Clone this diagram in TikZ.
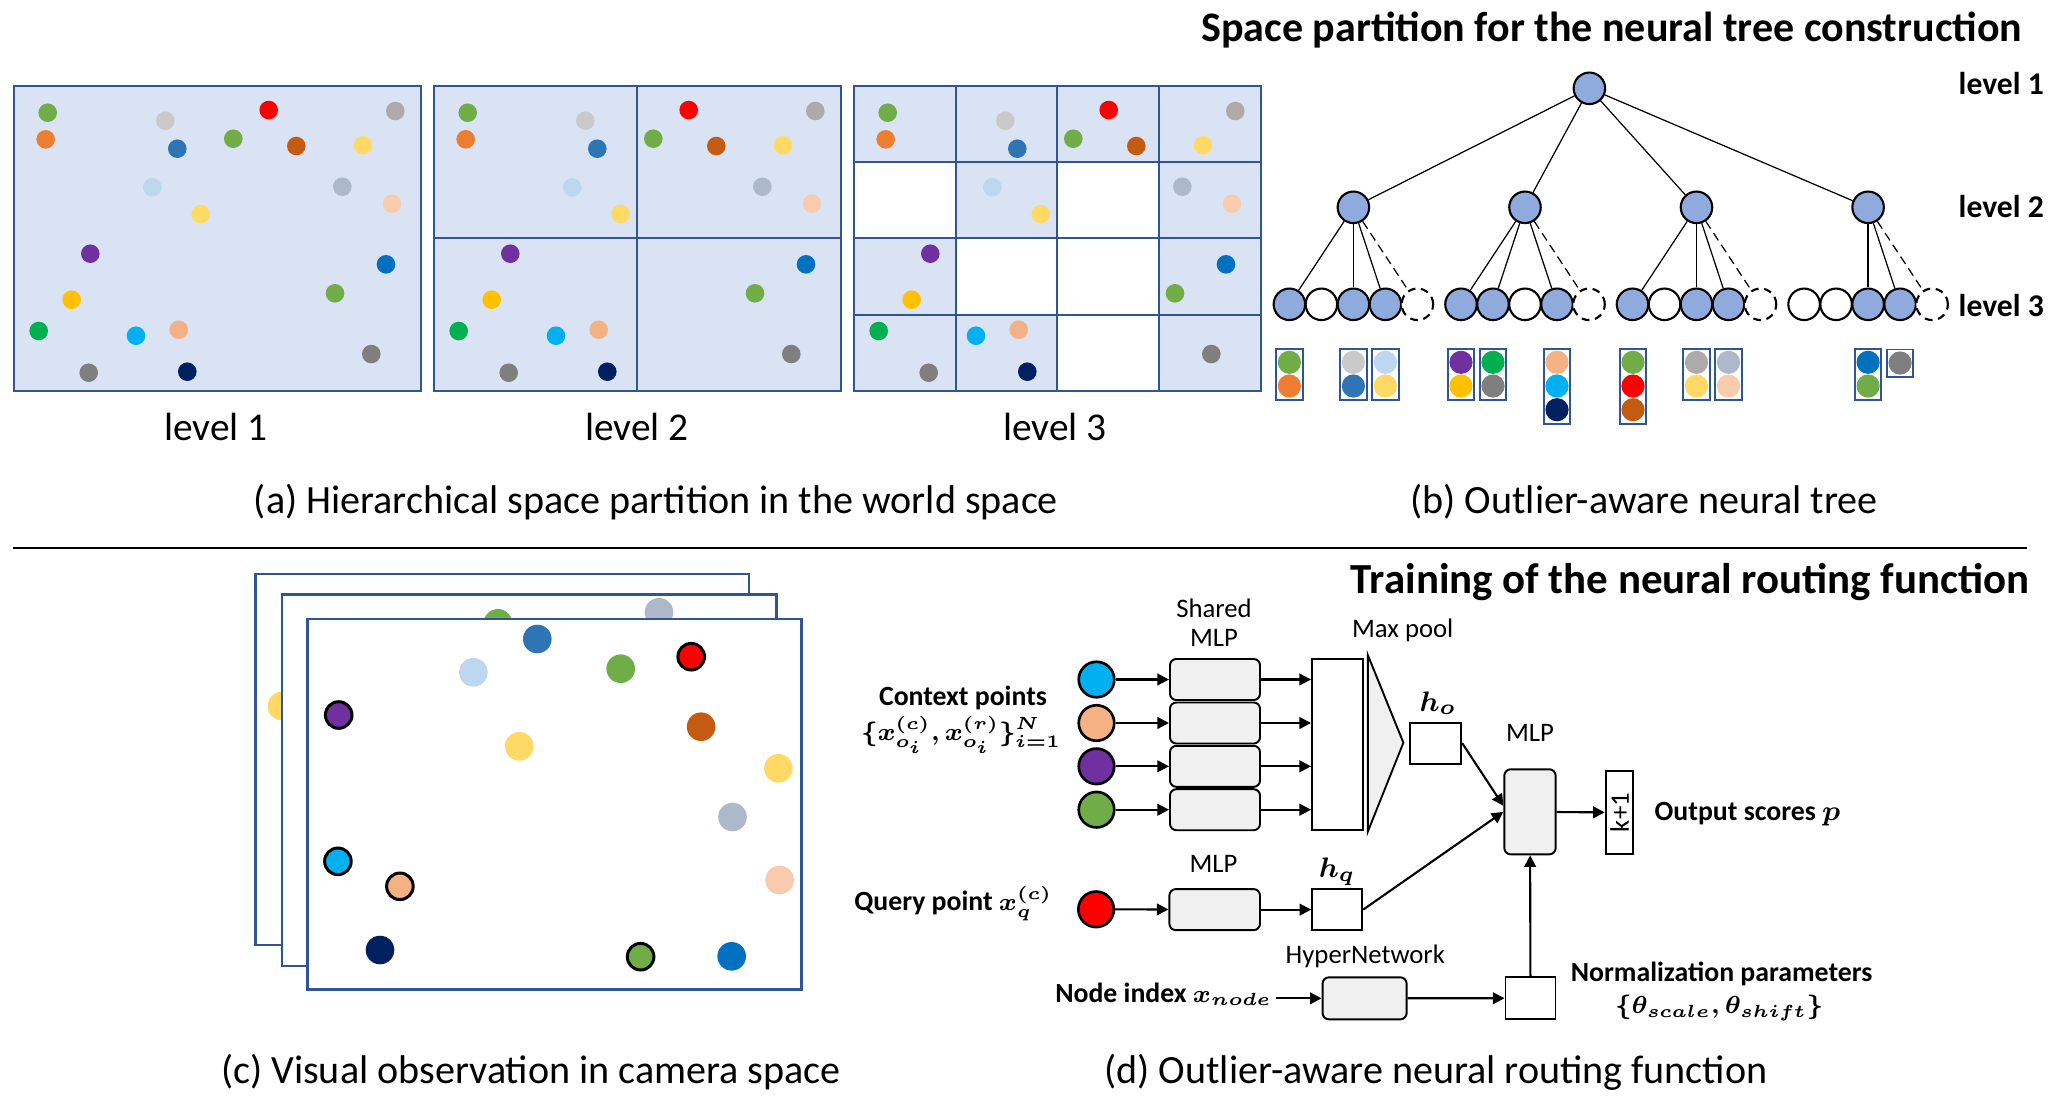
\documentclass[tikz,border=0pt]{standalone}
\usepackage{fontspec}
\setmainfont{Carlito}
\usepackage{amsmath,bm}
\usetikzlibrary{arrows.meta,calc}

\definecolor{pgreen}{HTML}{70AD47}
\definecolor{porange}{HTML}{ED7D31}
\definecolor{plgray}{HTML}{C9C9C9}
\definecolor{pblue}{HTML}{2E75B6}
\definecolor{pred}{HTML}{FF0000}
\definecolor{pbrown}{HTML}{C55A11}
\definecolor{pyellow}{HTML}{FFD966}
\definecolor{pgray}{HTML}{AEAAAA}
\definecolor{plblue}{HTML}{BDD7EE}
\definecolor{pbgray}{HTML}{ADB9CA}
\definecolor{ppeach}{HTML}{F8CBAD}
\definecolor{ppurple}{HTML}{7030A0}
\definecolor{pdblue}{HTML}{0070C0}
\definecolor{pgold}{HTML}{FFC000}
\definecolor{pdgreen}{HTML}{00B050}
\definecolor{pcyan}{HTML}{00B0F0}
\definecolor{ptan}{HTML}{F4B183}
\definecolor{pdgray}{HTML}{7F7F7F}
\definecolor{pnavy}{HTML}{002060}
\definecolor{frameblue}{HTML}{2F5597}
\definecolor{cellblue}{HTML}{DAE3F3}
\definecolor{treeblue}{HTML}{8FAADC}
\definecolor{mlpgray}{HTML}{F0F0F0}

\newcommand\figcapfont{\fontsize{11.4}{13.7}\selectfont}
\newcommand\figlvlfont{\fontsize{11.2}{13.4}\selectfont}
\newcommand\figheadfont{\fontsize{11.95}{14}\selectfont\bfseries}
\newcommand\figheaddfont{\fontsize{12.2}{14}\selectfont\bfseries}
\newcommand\figtreefont{\fontsize{9}{11}\selectfont\bfseries}
\newcommand\fignetfont{\fontsize{7.6}{8.1}\selectfont}
\newcommand\figboldfont{\fontsize{7.9}{9.5}\selectfont\bfseries}
\newcommand\figmathfont{\fontsize{8}{9.5}\selectfont}
\newcommand\figsmallmath{\fontsize{6.6}{8}\selectfont}

\def\worldpts{47.7/112.7/pgreen, 45.7/139.3/porange, 165.3/120.7/plgray, 177.3/148.7/pblue,
  233.3/138.7/pgreen, 268.7/110/pred, 296.3/146/pbrown, 363/145.3/pyellow, 395.3/111/pgray,
  152.3/187.3/plblue, 200.7/214/pyellow, 342.3/186.7/pbgray, 392/203.7/ppeach,
  90.3/253.7/ppurple, 386/264.3/pdblue, 335/293.3/pgreen, 71.7/299.7/pgold,
  38.7/331/pdgreen, 136/335.7/pcyan, 178.7/329.7/ptan, 371.3/354/pdgray,
  88.7/372.7/pdgray, 187.3/371.7/pnavy}

\tikzset{
  partframe/.style={draw=frameblue, line width=0.78pt},
  camframe/.style={draw=frameblue, fill=white, line width=0.72pt},
  leafframe/.style={draw=frameblue, line width=0.55pt},
  treenode/.style={circle, draw=black, line width=0.6pt, fill=treeblue, minimum size=0.315cm, inner sep=0pt},
  leafon/.style={treenode},
  leafoff/.style={treenode, fill=white},
  leafout/.style={treenode, fill=white, dashed, dash pattern=on 2.2pt off 1.6pt},
  treeedge/.style={line width=0.35pt},
  ctxdot/.style={circle, draw=black, line width=0.75pt, minimum size=0.355cm, inner sep=0pt},
  mlpbox/.style={draw=black, fill=mlpgray, rounded corners=1.8pt, line width=0.55pt, inner sep=0pt},
  featbox/.style={draw=black, fill=white, line width=0.55pt, inner sep=0pt},
  arr/.style={-{Triangle[length=3.3pt,width=3.3pt]}, line width=0.6pt}
}

\begin{document}
\begin{tikzpicture}[x=0.01cm,y=-0.01cm]
			%%%%% START %%%%%
			\useasboundingbox (0,0) rectangle (2056,1108);
			
			% (a) world space partition
			\fill[cellblue] (14,86) rectangle (421,391);
			\fill[cellblue] (434,86) rectangle (841,391);
			\fill[cellblue] (854,86) rectangle (1261,391);
			\fill[white] (854,162) rectangle (956,238);
			\fill[white] (1057,162) rectangle (1159,238);
			\fill[white] (956,238) rectangle (1159,391);
			\fill[cellblue] (956,315) rectangle (1057,391);
			
			\foreach \off in {0,420,840}
			  \foreach \px/\py/\pc in \worldpts
			    \fill[\pc] (\px+\off,\py) circle (9.3);
			
			\draw[partframe] (14,86) rectangle (421,391);
			\draw[partframe] (434,86) rectangle (841,391);
			\draw[partframe] (637,86) -- (637,391) (434,238) -- (841,238);
			\draw[partframe] (854,86) rectangle (1261,391);
			\foreach \gx in {956,1057,1159} \draw[partframe] (\gx,86) -- (\gx,391);
			\foreach \gy in {162,238,315} \draw[partframe] (854,\gy) -- (1261,\gy);
			
			\node[font=\figlvlfont] (lvla) at (216,427) {level 1};
			\node[font=\figlvlfont] (lvlb) at (637,427) {level 2};
			\node[font=\figlvlfont] (lvlc) at (1055,427) {level 3};
			\node[font=\figcapfont] (capa) at (656,502) {(a) Hierarchical space partition in the world space};
			
			% (b) neural tree
			\node[font=\figheadfont, anchor=base east, inner sep=0pt] (headb) at (2023,41.7) {Space partition for the neural tree construction};
			
			\node[treenode] (root) at (1589.4,88.3) {};
			\foreach \i/\px in {1/1353.4,2/1525,3/1696.5,4/1868.1}
			  \node[treenode] (m\i) at (\px,207.3) {};
			\foreach \i/\px/\sa/\sb/\sc/\sd/\se in {1/1353.4/leafon/leafoff/leafon/leafon/leafout,
			    2/1525/leafon/leafon/leafoff/leafon/leafout, 3/1696.5/leafon/leafoff/leafon/leafon/leafout,
			    4/1868.1/leafoff/leafoff/leafon/leafon/leafout}
			  \foreach \k/\s in {1/\sa,2/\sb,3/\sc,4/\sd,5/\se}
			    \node[\s] (l\i\k) at (\px+32*\k-96,304.3) {};
			
			\foreach \i in {1,...,4} \draw[treeedge] (root) -- (m\i);
			\foreach \e in {l11,l13,l14} \draw[treeedge] (m1) -- (\e);
			\foreach \e in {l21,l22,l24} \draw[treeedge] (m2) -- (\e);
			\foreach \e in {l31,l33,l34} \draw[treeedge] (m3) -- (\e);
			\foreach \e in {l43,l44} \draw[treeedge] (m4) -- (\e);
			\foreach \i in {1,...,4} \draw[treeedge, dashed, dash pattern=on 2.5pt off 1.5pt] (m\i) -- (l\i5);
			
			\node[font=\figtreefont, anchor=west, inner sep=0pt] (tlvla) at (1958,84) {level 1};
			\node[font=\figtreefont, anchor=west, inner sep=0pt] (tlvlb) at (1958,206) {level 2};
			\node[font=\figtreefont, anchor=west, inner sep=0pt] (tlvlc) at (1958,305) {level 3};
			
			% leaf point sets
			\foreach \lx/\ca/\cb in {1289.4/pgreen/porange, 1353.4/plgray/pblue, 1385.4/plblue/pyellow,
			    1461/ppurple/pgold, 1493/pdgreen/pdgray, 1696.5/pgray/pyellow, 1728.5/pbgray/ppeach,
			    1868.1/pdblue/pgreen} {
			  \fill[\ca] (\lx,362.3) circle (11.6);
			  \fill[\cb] (\lx,386) circle (11.6);
			  \draw[leafframe] (\lx-13.3,349) rectangle (\lx+13.3,400);
			}
			\foreach \lx/\ca/\cb/\cc in {1557/ptan/pcyan/pnavy, 1633/pgreen/pred/pbrown} {
			  \fill[\ca] (\lx,362.3) circle (11.6);
			  \fill[\cb] (\lx,386) circle (11.6);
			  \fill[\cc] (\lx,409.7) circle (11.6);
			  \draw[leafframe] (\lx-13.3,349) rectangle (\lx+13.3,424);
			}
			\fill[pdgray] (1900.1,363) circle (11.6);
			\draw[leafframe] (1886.8,349.5) rectangle (1913.4,376.7);
			
			\node[font=\figcapfont] (capb) at (1644,502) {(b) Outlier-aware neural tree};
			
			\draw[line width=0.45pt] (13,548) -- (2027,548);
			
			% (c) camera observations
			\filldraw[camframe] (255.3,574) rectangle (749,945);
			\fill[pyellow] (282,706) circle (14.3);
			\filldraw[camframe] (282,594.7) rectangle (776.5,966);
			\fill[pgreen] (497.9,623.3) circle (14.3);
			\fill[pbgray] (659,612.3) circle (14.3);
			\filldraw[camframe] (307.3,619) rectangle (801.4,989.3);
			\foreach \px/\py/\pc in {537.3/639/pblue, 473.4/672.3/plblue, 620.7/668.7/pgreen,
			    701.1/726.7/pbrown, 519.3/746.3/pyellow, 778.4/768.3/pyellow, 732.5/817/pbgray,
			    779.6/880/ppeach, 380/950/pnavy, 731.7/956.3/pdblue}
			  \fill[\pc] (\px,\py) circle (14.3);
			\foreach \px/\py/\pc in {691.2/656.7/pred, 338.7/715/ppurple, 337.9/861.3/pcyan,
			    399.9/886.3/ptan, 640.6/956.7/pgreen}
			  \filldraw[fill=\pc, draw=black, line width=0.85pt] (\px,\py) circle (13.3);
			
			\node[font=\figcapfont] (capc) at (531,1072) {(c) Visual observation in camera space};
			
			% (d) neural routing function
			\node[font=\figheaddfont, anchor=base east, inner sep=0pt] (headd) at (2030,593.3) {Training of the neural routing function};
			
			\node[ctxdot, fill=pcyan] (ctx1) at (1096.5,679.5) {};
			\node[ctxdot, fill=ptan] (ctx2) at (1096.5,723) {};
			\node[ctxdot, fill=ppurple] (ctx3) at (1096.5,766.3) {};
			\node[ctxdot, fill=pgreen] (ctx4) at (1096.5,809.7) {};
			\foreach \i/\py in {1/679.5,2/723,3/766.3,4/809.7}
			  \node[mlpbox, minimum width=0.9cm, minimum height=0.41cm] (smlp\i) at (1215,\py) {};
			\node[featbox, minimum width=0.505cm, minimum height=1.71cm] (pool) at (1337.3,744.5) {};
			\draw[line width=0.55pt, fill=mlpgray] (1367.8,655) -- (1403.4,742.7) -- (1367.8,831.7) -- cycle;
			\node[featbox, minimum width=0.51cm, minimum height=0.41cm] (ho) at (1435.7,743.1) {};
			\node[mlpbox, minimum width=0.513cm, minimum height=0.85cm] (mlp) at (1530,811.8) {};
			\node[featbox, minimum width=0.836cm, minimum height=0.276cm, rotate=90, font=\fignetfont] (out) at (1619.5,812.5) {k+1};
			
			\node[ctxdot, fill=pred] (qry) at (1096.1,909.3) {};
			\node[mlpbox, minimum width=0.905cm, minimum height=0.41cm] (qmlp) at (1214.7,909.6) {};
			\node[featbox, minimum width=0.5cm, minimum height=0.41cm] (hq) at (1337.2,909.6) {};
			\node[mlpbox, minimum width=0.84cm, minimum height=0.42cm] (hyper) at (1364.6,998.3) {};
			\node[featbox, minimum width=0.5cm, minimum height=0.42cm] (norm) at (1530.5,998.2) {};
			
			\node[font=\figboldfont, inner sep=0pt] (ctxlab) at (963,697.7) {Context points};
			\node[font=\figsmallmath, inner sep=0pt] (ctxmath) at (961.4,735) {$\bm{\{x_{o_i}^{(c)},x_{o_i}^{(r)}\}_{i=1}^{N}}$};
			\node[font=\figboldfont, anchor=base east, inner sep=0pt] (qrylab) at (1053,910) {Query point {\figsmallmath$\bm{x_q^{(c)}}$}};
			\node[font=\figboldfont, anchor=base east, inner sep=1pt] (nodeidx) at (1276,1002) {Node index {\figsmallmath$\bm{x_{node}}$}};
			\node[font=\figboldfont, anchor=west, inner sep=0pt] (outlab) at (1654,814) {Output scores $\bm{p}$};
			\node[font=\figboldfont, inner sep=0.5pt] (normlab) at (1721.6,974) {Normalization parameters};
			\node[font=\figsmallmath, inner sep=0.5pt] (normmath) at (1719.2,1008) {$\bm{\{\theta_{scale},\theta_{shift}\}}$};
			
			\node[font=\fignetfont, align=center] (smlplab) at (1214,622.5) {Shared\\MLP};
			\node[font=\fignetfont] (poollab) at (1402.7,630) {Max pool};
			\node[font=\fignetfont] (mlplab) at (1530,733.3) {MLP};
			\node[font=\fignetfont] (qmlplab) at (1213.5,864.3) {MLP};
			\node[font=\fignetfont] (hyperlab) at (1365.3,956.7) {HyperNetwork};
			\node[font=\figmathfont] (holab) at (1437.9,703.3) {$\bm{h_o}$};
			\node[font=\figmathfont] (hqlab) at (1337.2,871.7) {$\bm{h_q}$};
			
			\foreach \i in {1,...,4} {
			  \draw[arr] (ctx\i) -- (smlp\i);
			  \draw[arr] (smlp\i) -- (smlp\i -| pool.west);
			}
			\draw[arr] (qry) -- (qmlp);
			\draw[arr] (qmlp) -- (hq);
			\draw[arr] (ho.east) -- ($(mlp.west)+(0,-6)$);
			\draw[arr] (hq.east) -- (mlp.west);
			\draw[arr] (mlp) -- (out);
			\draw[arr] (nodeidx.east |- hyper) -- (hyper.west);
			\draw[arr] (hyper) -- (norm);
			\draw[arr] (norm) -- (mlp);
			
			\node[font=\figcapfont] (capd) at (1436,1072) {(d) Outlier-aware neural routing function};
			
			%%%%% END %%%%%
\end{tikzpicture}
\end{document}
